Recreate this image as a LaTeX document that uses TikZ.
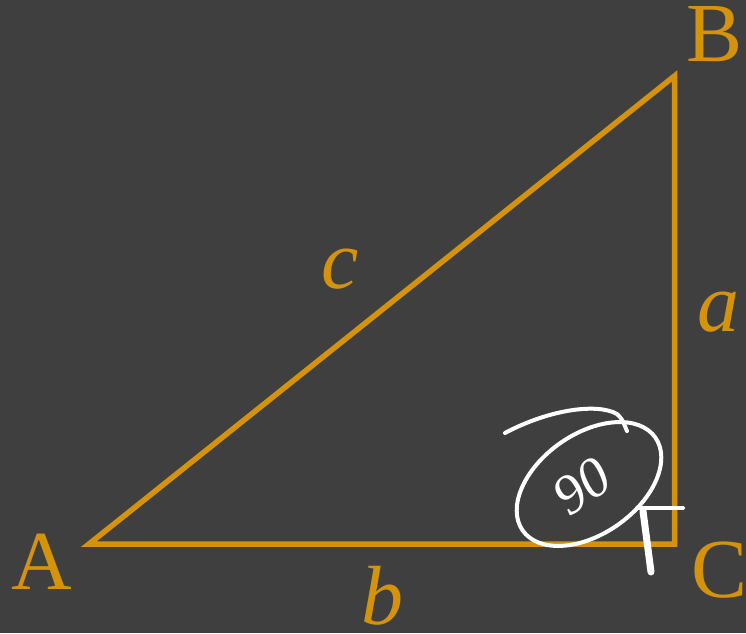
\documentclass[tikz,border=0pt]{standalone}
\usepackage{fontspec}
\setmainfont{Liberation Serif}
\definecolor{bgc}{HTML}{3F3F3F}
\definecolor{gold}{HTML}{D4930A}
\begin{document}
\begin{tikzpicture}[x=1pt,y=1pt,
  edge/.style={draw=gold,line width=5.5pt,line join=miter},
  lbl/.style={text=gold,inner sep=0pt,font=\fontsize{84}{84}\selectfont},
  ink/.style={draw=white,line width=4pt,line cap=round,line join=round}]
\fill[bgc] (0,0) rectangle (746,633);
\useasboundingbox (0,0) rectangle (746,633);
\coordinate (A) at (89,89);
\coordinate (B) at (674.5,557);
\coordinate (C) at (674.5,89);
\draw[edge] (A) -- (B) -- (C) -- cycle;
\node[lbl] (lB) at (715,599) {B};
\node[lbl] (lA) at (42,71) {A};
\node[lbl] (lC) at (720,63) {C};
\node[lbl] (lc) at (340,364) {\itshape c};
\node[lbl] (la) at (718,321) {\itshape a};
\node[lbl] (lb) at (382,37) {\itshape b};
% handwritten annotation
\coordinate (ang) at (589,149);
\draw[ink] (ang) ellipse[x radius=81,y radius=50,rotate=35];
\draw[ink] (505,200) .. controls (550,224) and (598,230) .. (617,219) .. controls (622,214) .. (627,202);
\node[text=white,rotate=35,inner sep=0pt,font=\fontsize{56}{56}\selectfont\itshape] (n90) at (582,147) {90};
\coordinate (m1) at (637,125);
\coordinate (m2) at (683,125);
\coordinate (m3) at (643,122);
\coordinate (m4) at (651,61);
\draw[ink] (m1) -- (m2);
\draw[ink,line width=7pt] (m3) -- (m4);
\end{tikzpicture}
\end{document}
